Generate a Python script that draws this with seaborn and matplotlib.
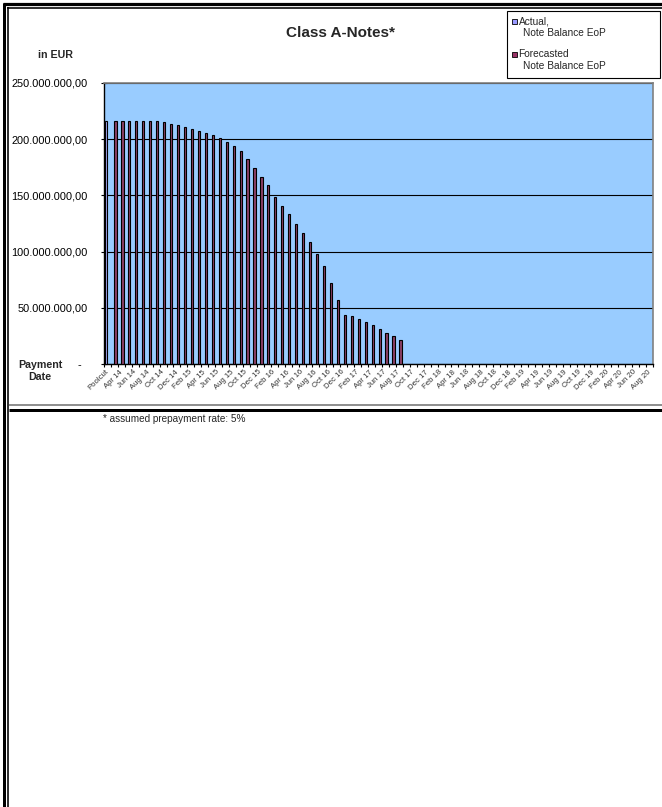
import matplotlib
matplotlib.use("Agg")
import matplotlib.pyplot as plt
import seaborn as sns
import pandas as pd
from matplotlib.lines import Line2D
from matplotlib.patches import Rectangle
from matplotlib.ticker import FuncFormatter, FixedLocator

# ---------------- data ----------------
month_names = ["Jan", "Feb", "Mar", "Apr", "May", "Jun",
               "Jul", "Aug", "Sep", "Oct", "Nov", "Dec"]
years = ["14", "15", "16", "17", "18", "19", "20"]
all_months = [f"{m} {y}" for y in years for m in month_names]
categories = ["Poolcut"] + all_months[2:80]          # Poolcut, Mar 14 ... Aug 20

actual_dates = ["Poolcut"]
actual_values = [216400000]

forecast_values = [
    216400000, 216400000, 216400000, 216400000, 216400000, 216400000, 216400000,
    214900000, 213800000, 212600000, 211100000, 209300000, 207500000, 205700000,
    203400000, 200700000, 197700000, 193600000, 189100000, 182300000, 174600000,
    166000000, 159400000, 148400000, 140700000, 133600000, 125000000, 116700000,
    108100000, 98000000, 87600000, 71800000, 56700000, 43900000, 42500000,
    40100000, 37100000, 34700000, 31200000, 27900000, 24600000, 21400000,
]
forecast_dates = categories[1:1 + len(forecast_values)]

series_names = ["Actual", "Forecasted"]
legend_first = ["Actual,", "Forecasted"]
legend_second = ["Note Balance EoP", "Note Balance EoP"]
y_ticks = [0, 50000000, 100000000, 150000000, 200000000, 250000000]

df = pd.DataFrame({
    "date": actual_dates + forecast_dates,
    "balance": actual_values + forecast_values,
    "series": [series_names[0]] * len(actual_values) + [series_names[1]] * len(forecast_values),
})

# ---------------- figure ----------------
W, H = 662, 807
sns.set_theme(style="white")
plt.rcParams["font.family"] = ["Liberation Sans", "DejaVu Sans"]

fig = plt.figure(figsize=(W / 100, H / 100), dpi=100)
fig.patch.set_facecolor("white")

def fx(x):
    return x / W

def fy(y):
    return 1 - y / H

left, right, top, bottom = 104, 653, 83, 364
ax = fig.add_axes([fx(left), fy(bottom), fx(right) - fx(left), fy(top) - fy(bottom)])

colors = {"Actual": "#9999FF", "Forecasted": "#993366"}
sns.barplot(data=df, x="date", y="balance", hue="series", order=categories,
            hue_order=series_names, palette=colors, width=0.62, dodge=True,
            edgecolor="black", linewidth=0.8, legend=False, ax=ax, zorder=3)

ax.set_facecolor("#99CCFF")
ax.set_xlim(-0.5, len(categories) - 0.5)
ax.set_ylim(0, 250000000)
ax.set_xlabel("")
ax.set_ylabel("")

# y axis
ax.yaxis.set_major_locator(FixedLocator(y_ticks))

def yfmt(v, pos):
    if v == 0:
        return "-  "
    s = f"{v:,.2f}"
    return s.replace(",", "X").replace(".", ",").replace("X", ".")

ax.yaxis.set_major_formatter(FuncFormatter(yfmt))
ax.yaxis.grid(True, color="black", linewidth=0.8, zorder=1)
ax.set_axisbelow(True)
ax.tick_params(axis="y", which="major", direction="inout", length=5, width=0.8,
               labelsize=7.9, pad=9, colors="black", left=True)

# x axis
ax.set_xticks(range(len(categories)))
ax.set_xticklabels([c if i % 2 == 0 else "" for i, c in enumerate(categories)],
                   rotation=45, ha="right", va="center", rotation_mode="anchor",
                   fontsize=5.6, color="#333333")
ax.tick_params(axis="x", which="major", length=0, pad=5)
ax.set_xticks([i - 0.5 for i in range(len(categories) + 1)], minor=True)
ax.tick_params(axis="x", which="minor", direction="out", length=2.5, width=0.8,
               color="black", bottom=True)

for s in ["left", "bottom"]:
    ax.spines[s].set_color("black")
    ax.spines[s].set_linewidth(1.0)
for s in ["top", "right"]:
    ax.spines[s].set_color("#808080")
    ax.spines[s].set_linewidth(1.2)

# texts
fig.text(fx(340), fy(33), "Class A-Notes*", ha="center", va="center",
         fontsize=11, fontweight="bold")
fig.text(fx(55), fy(55), "in EUR", ha="center", va="center",
         fontsize=7.7, fontweight="bold")
fig.text(fx(40), fy(371), "Payment\nDate", ha="center", va="center",
         fontsize=7.7, fontweight="bold", linespacing=1.15)
fig.text(fx(103), fy(419), "* assumed prepayment rate: 5%", ha="left", va="center",
         fontsize=7.2)

# legend (drawn by hand so markers sit on the first text line)
fig.add_artist(Rectangle((fx(507), fy(78)), fx(660) - fx(507), fy(11) - fy(78),
                         transform=fig.transFigure, facecolor="white",
                         edgecolor="black", linewidth=0.8))
legend_y = [21, 54]
for name, first, second, ly in zip(series_names, legend_first, legend_second, legend_y):
    fig.add_artist(Rectangle((fx(512), fy(ly + 2.5)), fx(517) - fx(512), fy(ly - 2.5) - fy(ly + 2.5),
                             transform=fig.transFigure, facecolor=colors[name],
                             edgecolor="black", linewidth=0.6))
    fig.text(fx(518.5), fy(ly), first, ha="left", va="center", fontsize=7.3)
    fig.text(fx(523), fy(ly + 12), second, ha="left", va="center", fontsize=7.3)

# frame / border lines
def hline(y, x0, x1, lw_px, color="black"):
    fig.add_artist(Line2D([fx(x0), fx(x1)], [fy(y), fy(y)], color=color,
                          linewidth=lw_px * 0.72, solid_capstyle="butt"))

def vline(x, y0, y1, lw_px, color="black"):
    fig.add_artist(Line2D([fx(x), fx(x)], [fy(y0), fy(y1)], color=color,
                          linewidth=lw_px * 0.72, solid_capstyle="butt"))

hline(4.3, 3, W, 3.2)
hline(8.2, 7.3, W, 1.6)
vline(4.0, 3, H, 3.0)
vline(8.0, 7.3, H, 1.6)
hline(404.5, 8.8, W, 2.0, color="#909090")
hline(409.8, 8.8, W, 3.0)

fig.savefig("out.png", dpi=100, facecolor="white")
